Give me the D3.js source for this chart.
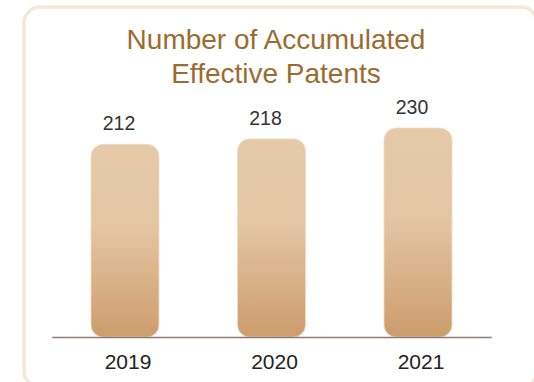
<!DOCTYPE html>
<html>
<head>
<meta charset="utf-8">
<script src="https://cdn.jsdelivr.net/npm/d3@7"></script>
<style>
  html, body { margin: 0; padding: 0; background: #fff; overflow: hidden; }
  svg { display: block; font-family: "Liberation Sans", Arial, Helvetica, sans-serif; }
</style>
</head>
<body>
<svg id="chart"></svg>
<script>
var years = ['2019', '2020', '2021'];
var patents = [212, 218, 230];
var titleLines = ['Number of Accumulated', 'Effective Patents'];

var width = 534,
    height = 382,
    baseY = 337;

var svg = d3.select('#chart')
  .attr('width', width)
  .attr('height', height);

// gradient for the bars
var grad = svg.append('defs').append('linearGradient')
  .attr('id', 'barGrad')
  .attr('x1', 0).attr('y1', 0)
  .attr('x2', 0).attr('y2', 1);
grad.append('stop').attr('offset', '0%').attr('stop-color', '#e6c9a9');
grad.append('stop').attr('offset', '42%').attr('stop-color', '#e4c6a5');
grad.append('stop').attr('offset', '100%').attr('stop-color', '#cc9d6c');

// card (runs off the right and bottom edges)
svg.append('rect')
  .attr('x', 24)
  .attr('y', 7)
  .attr('width', 513)
  .attr('height', 380)
  .attr('rx', 16)
  .attr('fill', '#fff')
  .attr('stroke', '#f4e8da')
  .attr('stroke-width', 3.5);

svg.append('text')
  .attr('x', 276)
  .attr('text-anchor', 'middle')
  .attr('fill', '#9b6c30')
  .style('font-size', '28px')
  .selectAll('tspan')
  .data(titleLines)
  .enter()
  .append('tspan')
    .attr('x', 276)
    .attr('y', (d, i) => 49 + i * 34)
    .text(d => d);

var xScale = d3.scaleBand()
  .domain(years)
  .range([51.75, 491.25])
  .paddingInner(0.536)
  .paddingOuter(0.268);

var yScale = d3.scaleLinear()
  .domain([0, 230])
  .range([baseY, 128]);

svg.selectAll('rect.bar')
  .data(patents)
  .enter()
  .append('rect')
    .attr('class', 'bar')
    .attr('x', (d, i) => xScale(years[i]))
    .attr('y', d => yScale(d))
    .attr('width', xScale.bandwidth())
    .attr('height', d => baseY - yScale(d))
    .attr('rx', 12)
    .attr('fill', 'url(#barGrad)')
    .attr('stroke', '#f0dcc5')
    .attr('stroke-width', 0.8);

// base line
svg.append('g')
  .attr('transform', 'translate(0,' + baseY + ')')
  .call(d3.axisBottom(xScale).tickSize(0).tickPadding(17))
  .call(g => g.select('.domain').attr('stroke', '#8e7b7a').attr('stroke-width', 1.5))
  .call(g => g.selectAll('.tick text')
    .attr('fill', '#222')
    .attr('dx', 3)
    .style('font-size', '21px')
    .style('font-family', '"Liberation Sans", Arial, sans-serif'));

svg.selectAll('text.val')
  .data(patents)
  .enter()
  .append('text')
    .attr('class', 'val')
    .attr('x', (d, i) => xScale(years[i]) + xScale.bandwidth() / 2 - 6)
    .attr('y', d => yScale(d) - 14)
    .attr('text-anchor', 'middle')
    .attr('fill', '#333')
    .style('font-size', '19.5px')
    .text(d => d);
</script>
</body>
</html>
